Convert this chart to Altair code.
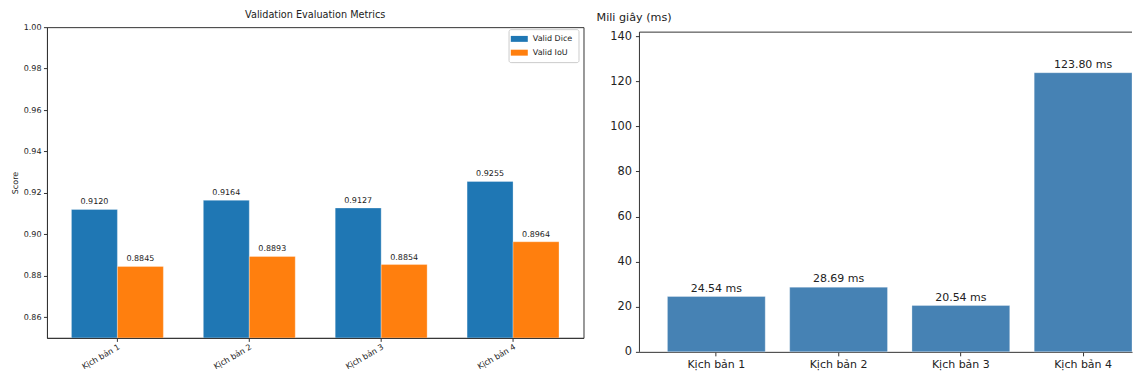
import altair as alt
import pandas as pd

# ---- data ----
scenarios = ["Kịch bản 1", "Kịch bản 2", "Kịch bản 3", "Kịch bản 4"]
series_names = ["Valid Dice", "Valid IoU"]
series_colors = ["#1f77b4", "#ff7f0e"]
valid_dice = [0.9120, 0.9164, 0.9127, 0.9255]
valid_iou = [0.8845, 0.8893, 0.8854, 0.8964]
score_ticks = [0.86, 0.88, 0.90, 0.92, 0.94, 0.96, 0.98, 1.00]
score_range = [0.85, 1.00]
latency_ms = [24.54, 28.69, 20.54, 123.80]
ms_ticks = [0, 20, 40, 60, 80, 100, 120, 140]
ms_axis_max = 141.8

FONT = "DejaVu Sans"
INK = "#222222"
SPINE = "#333333"

# layout sizes (pixels)
LW, LH = 537, 311
RW, RH = 493, 320
R_TOP_GAP = 5  # right frame sits a few px lower than the left one

metrics = pd.DataFrame({
    "scenario": scenarios * 2,
    "series": [series_names[0]] * len(scenarios) + [series_names[1]] * len(scenarios),
    "score": valid_dice + valid_iou,
})
metrics["label"] = metrics["score"].map(lambda v: f"{v:.4f}")

lat = pd.DataFrame({"scenario": scenarios, "ms": latency_ms})
lat["label"] = lat["ms"].map(lambda v: f"{v:.2f} ms")

# ---- left panel: grouped bars ----
left_base = alt.Chart(metrics).encode(
    x=alt.X(
        "scenario:N", sort=scenarios, title=None,
        scale=alt.Scale(paddingInner=0.303, paddingOuter=0.1856),
        axis=alt.Axis(labelAngle=-30, labelAlign="right", labelBaseline="top",
                      labelFontSize=8, labelFont=FONT, labelColor=INK,
                      tickSize=3.5, tickColor=SPINE, labelPadding=1.5,
                      domainColor=SPINE, domainWidth=1),
    ),
    xOffset=alt.XOffset("series:N", sort=series_names),
    y=alt.Y(
        "score:Q",
        scale=alt.Scale(domain=score_range, zero=False, nice=False),
        axis=alt.Axis(values=score_ticks, format=".2f", title="Score",
                      titleFontSize=8, titleFont=FONT, titleFontWeight="normal",
                      titleColor=INK, titlePadding=4,
                      labelFontSize=8, labelFont=FONT, labelColor=INK,
                      tickSize=3.5, tickColor=SPINE, labelPadding=2.5,
                      domainColor=SPINE, domainWidth=1, grid=False),
    ),
)

left_bars = left_base.mark_bar(clip=True, stroke="white", strokeWidth=0.6, strokeOpacity=0.5).encode(
    color=alt.Color(
        "series:N",
        scale=alt.Scale(domain=series_names, range=series_colors),
        legend=alt.Legend(
            title=None, orient="none", legendX=462, legendY=2,
            fillColor="white", strokeColor="#cccccc", cornerRadius=2,
            padding=5.25, rowPadding=4.8,
            symbolType="M-2,-0.7H2V0.7H-2Z", symbolSize=72.25,
            symbolStrokeWidth=0, symbolOpacity=1, symbolOffset=1,
            labelOffset=9, labelFontSize=8, labelFont=FONT, labelColor=INK,
        ),
    )
)
left_text = left_base.mark_text(baseline="bottom", dy=-3, fontSize=8, font=FONT, color=INK).encode(
    text="label:N"
)

left = alt.layer(left_bars, left_text).properties(
    width=LW, height=LH,
    title=alt.TitleParams("Validation Evaluation Metrics", fontSize=9.7, font=FONT,
                          fontWeight="normal", color=INK, offset=3, anchor="middle"),
    view=alt.ViewBackground(stroke=SPINE, strokeWidth=1),
)

# ---- right panel: latency bars ----
y_ext_max = ms_axis_max * (RH + R_TOP_GAP) / RH
right_base = alt.Chart(lat).encode(
    x=alt.X(
        "scenario:N", sort=scenarios, title=None,
        scale=alt.Scale(paddingInner=0.2, paddingOuter=0.1145, align=1),
        axis=alt.Axis(labelAngle=0, labelFontSize=11, labelFont=FONT, labelColor=INK,
                      tickSize=4, tickColor=SPINE, labelPadding=3,
                      domainColor=SPINE, domainWidth=1),
    ),
    y=alt.Y(
        "ms:Q",
        scale=alt.Scale(domain=[0, y_ext_max], nice=False),
        axis=alt.Axis(values=ms_ticks, title=None, domain=False,
                      labelFontSize=11.4, labelFont=FONT, labelColor=INK,
                      tickSize=4, tickColor=SPINE, labelPadding=4, grid=False),
    ),
)
right_bars = right_base.mark_bar(color="#4682b4", stroke="white", strokeWidth=0.6, strokeOpacity=0.5)
right_text = right_base.mark_text(baseline="bottom", dy=-3, fontSize=11, font=FONT, color=INK).encode(
    text="label:N"
)
frame_df = pd.DataFrame({"edge": ["frame"]})
top_edge = alt.Chart(frame_df).mark_rule(color=SPINE, strokeWidth=1).encode(
    x=alt.value(0), x2=alt.value(RW), y=alt.datum(ms_axis_max)
)
left_edge = alt.Chart(frame_df).mark_rule(color=SPINE, strokeWidth=1).encode(
    x=alt.value(0), y=alt.datum(0), y2=alt.datum(ms_axis_max)
)

right = alt.layer(right_bars, right_text, top_edge, left_edge).properties(
    width=RW, height=RH + R_TOP_GAP,
    title=alt.TitleParams("Mili giây (ms)", fontSize=11.2, font=FONT, fontWeight="normal",
                          color=INK, offset=4, anchor="start", frame="group", dx=-43),
    view=alt.ViewBackground(stroke="transparent"),
)

chart = alt.hconcat(left, right, spacing=56, bounds="flush").properties(
    padding={"left": 2, "top": 1, "right": 0, "bottom": 0},
    background="white",
).configure_view(stroke="transparent")

chart.save("out.html", embed_options={"renderer": "svg", "actions": False})
